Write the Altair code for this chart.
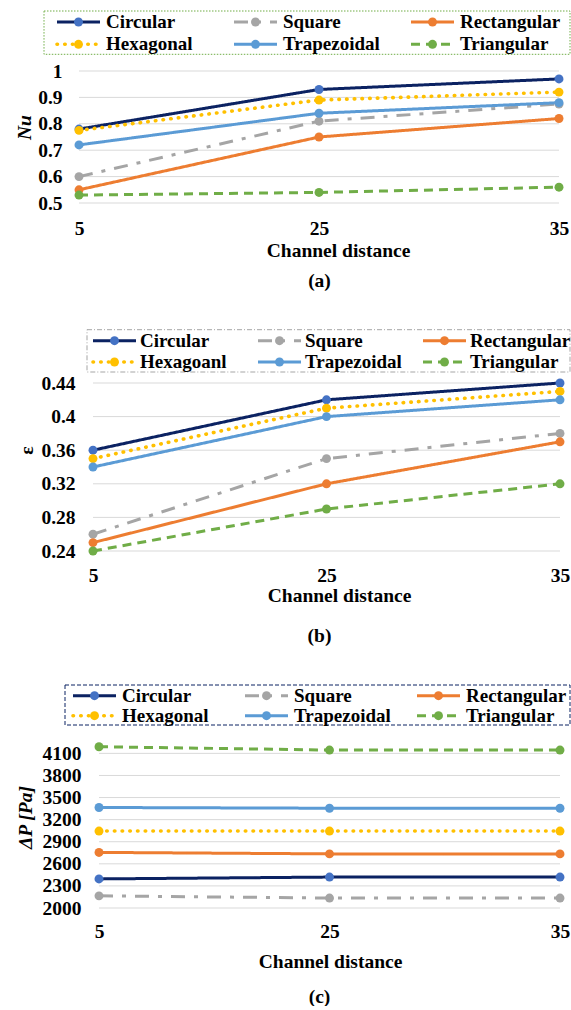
import altair as alt
import pandas as pd

FONT = "Liberation Serif"

# Category axis and series
distances = ["5", "25", "35"]
series = ["Circular", "Square", "Rectangular", "Hexagonal", "Trapezoidal", "Triangular"]
labels_a = ["Circular", "Square", "Rectangular", "Hexagonal", "Trapezoidal", "Triangular"]
labels_b = ["Circular", "Square", "Rectangular", "Hexagoanl", "Trapezoidal", "Triangular"]
labels_c = ["Circular", "Square", "Rectangular", "Hexagonal", "Trapezoidal", "Triangular"]

# (a) Nusselt number
nu_circular = [0.78, 0.93, 0.97]
nu_square = [0.60, 0.81, 0.875]
nu_rectangular = [0.55, 0.75, 0.82]
nu_hexagonal = [0.775, 0.89, 0.92]
nu_trapezoidal = [0.72, 0.84, 0.88]
nu_triangular = [0.53, 0.54, 0.56]

# (b) effectiveness
eps_circular = [0.36, 0.42, 0.44]
eps_square = [0.26, 0.35, 0.38]
eps_rectangular = [0.25, 0.32, 0.37]
eps_hexagonal = [0.35, 0.41, 0.43]
eps_trapezoidal = [0.34, 0.40, 0.42]
eps_triangular = [0.24, 0.29, 0.32]

# (c) pressure drop [Pa]
dp_circular = [2395, 2420, 2420]
dp_square = [2165, 2135, 2135]
dp_rectangular = [2755, 2735, 2735]
dp_hexagonal = [3045, 3045, 3045]
dp_trapezoidal = [3365, 3355, 3355]
dp_triangular = [4190, 4145, 4145]

# Axis tick labels
ticks_a = [0.5, 0.6, 0.7, 0.8, 0.9, 1.0]
ticks_b = [0.24, 0.28, 0.32, 0.36, 0.40, 0.44]
ticks_c = [2000, 2300, 2600, 2900, 3200, 3500, 3800, 4100]

# Series styling
line_colors = ["#0B2262", "#A5A5A5", "#ED7D31", "#FFC000", "#5B9BD5", "#70AD47"]
marker_colors = ["#4472C4", "#A5A5A5", "#ED7D31", "#FFC000", "#5B9BD5", "#70AD47"]
dashes = [[1, 0], [14, 9, 4, 9], [1, 0], [0.5, 7.2], [1, 0], [9, 6]]
round_dot_series = ["Hexagonal"]

color_scale = alt.Scale(domain=series, range=line_colors)
fill_scale = alt.Scale(domain=series, range=marker_colors)
dash_scale = alt.Scale(domain=series, range=dashes)

VIEW_W = 481
is_round = alt.FieldOneOfPredicate(field="series", oneOf=round_dot_series)


def long_table(columns):
    rows = []
    for name, vals in zip(series, columns):
        for d, v in zip(distances, vals):
            rows.append({"series": name, "distance": d, "value": v})
    return pd.DataFrame(rows)


def styled_lines(chart, mark, **enc):
    """Butt-capped strokes for solid/dashed series, round caps for the dotted one."""
    plain = chart.transform_filter(~is_round).mark_line(strokeWidth=3) if mark == "line" else \
        chart.transform_filter(~is_round).mark_rule(strokeWidth=3, x2Offset=43)
    dotted = chart.transform_filter(is_round).mark_line(strokeWidth=3.6, strokeCap="round") if mark == "line" else \
        chart.transform_filter(is_round).mark_rule(strokeWidth=3.6, strokeCap="round", x2Offset=43)
    return [plain.encode(**enc), dotted.encode(**enc)]


def panel(columns, labels, ticks, cfg):
    df = long_table(columns)
    x_scale = alt.Scale(type="point", domain=distances, padding=0, range=cfg["x_range"])
    x_axis = alt.Axis(
        title="Channel distance",
        labelAngle=0,
        domain=False,
        ticks=False,
        tickSize=0,
        grid=False,
        labelBaseline="middle",
        labelPadding=cfg["xlab_pad"],
        titleX=cfg["xtitle_x"],
        titleY=cfg["xtitle_y"],
        titleBaseline="middle",
    )
    y = alt.Y(
        "value:Q",
        scale=alt.Scale(domain=cfg["domain"], nice=False, zero=False),
        axis=alt.Axis(
            values=ticks,
            format=cfg["fmt"],
            title=cfg["title"],
            titleFontStyle=cfg["title_style"],
            grid=False,
            domain=False,
            ticks=False,
            tickSize=0,
            offset=cfg["y_offset"],
            labelPadding=cfg["ylab_pad"],
            titleX=cfg["ytitle_x"],
            titleY=cfg["ytitle_y"],
            titleBaseline="middle",
            titleAlign="center",
        ),
    )
    x = alt.X("distance:O", scale=x_scale, axis=x_axis)

    # Horizontal gridlines spanning the first to the last category
    grid_df = pd.DataFrame({"value": ticks, "start": distances[0], "end": distances[-1]})
    grid = alt.Chart(grid_df).mark_rule(color="#D9D9D9", strokeWidth=1).encode(
        x=alt.X("start:O", scale=x_scale, axis=x_axis),
        x2=alt.X2("end"),
        y=y,
    )

    base = alt.Chart(df)
    line_enc = dict(
        x=x,
        y=y,
        color=alt.Color("series:N", scale=color_scale, legend=None),
        strokeDash=alt.StrokeDash("series:N", scale=dash_scale, legend=None),
    )
    lines = styled_lines(base, "line", **line_enc)
    points = base.mark_circle(size=80, opacity=1).encode(
        x=x,
        y=y,
        fill=alt.Fill("series:N", scale=fill_scale, legend=None),
    )
    data_layer = alt.layer(grid, *lines, points)

    # Legend drawn as its own layer: three columns, two rows
    leg = pd.DataFrame({
        "series": series,
        "label": labels,
        "col": [i % 3 for i in range(len(series))],
        "row": [i // 3 for i in range(len(series))],
    })
    lx = alt.X("col:Q", scale=alt.Scale(domain=[0, 3], range=cfg["leg_x"]), axis=None)
    ly = alt.Y("row:Q", scale=alt.Scale(domain=[0, 1], range=cfg["leg_y"]), axis=None)
    lbase = alt.Chart(leg)
    segs = styled_lines(
        lbase, "rule",
        x=lx,
        x2=alt.X2("col"),
        y=ly,
        color=alt.Color("series:N", scale=color_scale, legend=None),
        strokeDash=alt.StrokeDash("series:N", scale=dash_scale, legend=None),
    )
    dot = lbase.mark_circle(size=80, opacity=1, xOffset=21.5).encode(
        x=lx, y=ly, fill=alt.Fill("series:N", scale=fill_scale, legend=None)
    )
    txt = lbase.mark_text(
        align="left", baseline="middle", dx=cfg["text_dx"], font=FONT,
        fontSize=19, fontWeight="bold", color="black",
    ).encode(x=lx, y=ly, text="label:N")
    frame = alt.Chart(pd.DataFrame({"box": [0]})).mark_rect(
        filled=False, stroke=cfg["frame_color"], strokeDash=cfg["frame_dash"], strokeWidth=1
    ).encode(
        x=alt.value(cfg["frame"][0]), x2=alt.value(cfg["frame"][1]),
        y=alt.value(cfg["frame"][2]), y2=alt.value(cfg["frame"][3]),
    )
    legend_layer = alt.layer(frame, *segs, dot, txt)

    return alt.layer(data_layer, legend_layer).resolve_scale(
        x="independent", y="independent"
    ).properties(
        width=VIEW_W,
        height=cfg["height"],
        title=alt.TitleParams(
            cfg["caption"], orient="bottom", anchor="middle", font=FONT,
            fontSize=19.5, fontWeight="bold", color="black", offset=cfg["cap_off"],
        ),
    )


cfg_a = dict(
    domain=[0.5, 1.0], fmt="~g", title="Nu", title_style="italic",
    x_range=[0, 480], height=132, xlab_pad=25, xtitle_x=259, xtitle_y=47,
    y_offset=0, ylab_pad=17, ytitle_x=-55, ytitle_y=56,
    leg_x=[-22, 509], leg_y=[-49, -26.7], text_dx=49,
    frame=[-35, 491, -60, -16.7], frame_color="#70AD47", frame_dash=[1.5, 1.5],
    caption="(a)", cap_off=12,
)
cfg_b = dict(
    domain=[0.24, 0.44], fmt="~g", title="ε", title_style="normal",
    x_range=[14, 481], height=168, xlab_pad=24, xtitle_x=260, xtitle_y=44,
    y_offset=-14, ylab_pad=18, ytitle_x=-67, ytitle_y=67,
    leg_x=[14, 509], leg_y=[-42.3, -21], text_dx=47,
    frame=[8, 491, -53.3, -11], frame_color="#A5A5A5", frame_dash=[5, 2, 1, 2],
    caption="(b)", cap_off=22,
)
cfg_c = dict(
    domain=[2000, 4200], fmt="d", title="ΔP [Pa]", title_style="italic",
    x_range=[20, 481], height=162, xlab_pad=23, xtitle_x=251, xtitle_y=53,
    y_offset=-20, ylab_pad=18, ytitle_x=-73.5, ytitle_y=71,
    leg_x=[-6, 510], leg_y=[-50.3, -30.3], text_dx=49,
    frame=[-14, 491, -61, -21], frame_color="#0B2262", frame_dash=[4, 2],
    caption="(c)", cap_off=17,
)

panel_a = panel(
    [nu_circular, nu_square, nu_rectangular, nu_hexagonal, nu_trapezoidal, nu_triangular],
    labels_a, ticks_a, cfg_a,
)
panel_b = panel(
    [eps_circular, eps_square, eps_rectangular, eps_hexagonal, eps_trapezoidal, eps_triangular],
    labels_b, ticks_b, cfg_b,
)
panel_c = panel(
    [dp_circular, dp_square, dp_rectangular, dp_hexagonal, dp_trapezoidal, dp_triangular],
    labels_c, ticks_c, cfg_c,
)

chart = alt.vconcat(panel_a, panel_b, panel_c, spacing=39).properties(
    padding={"left": 14, "top": 10, "right": 0, "bottom": 0},
    background="white",
).configure_view(stroke=None).configure_axis(
    labelFont=FONT, titleFont=FONT, labelFontSize=19.5, titleFontSize=19.5,
    labelFontWeight="bold", titleFontWeight="bold",
    labelColor="black", titleColor="black",
)

chart.save("out.html", embed_options={"renderer": "svg", "actions": False})
